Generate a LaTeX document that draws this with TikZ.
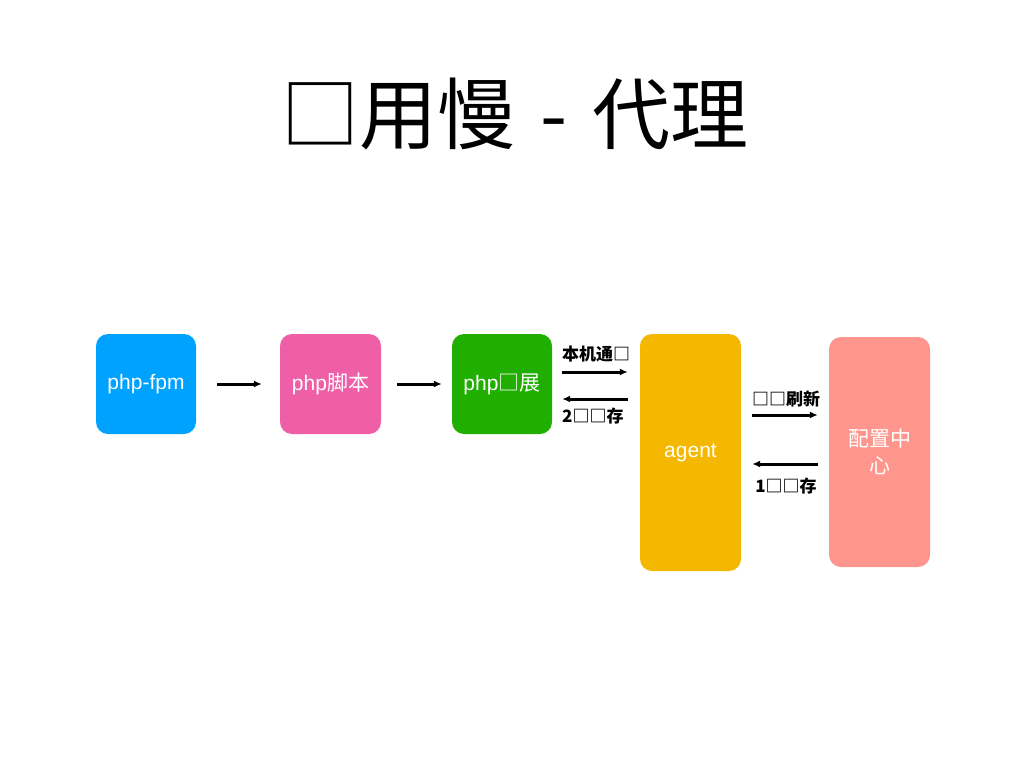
\documentclass[tikz,border=0pt]{standalone}
\usepackage{fontspec}
\setmainfont{Liberation Sans}
\newfontfamily\cjk{Noto Sans CJK SC}
\usetikzlibrary{arrows.meta}
\definecolor{cblue}{RGB}{0,162,255}
\definecolor{cpink}{RGB}{238,95,168}
\definecolor{cgreen}{RGB}{32,174,0}
\definecolor{corange}{RGB}{245,184,0}
\definecolor{csalmon}{RGB}{255,150,142}
\begin{document}
\begin{tikzpicture}[x=1pt,y=-1pt,
  box/.style={rectangle,rounded corners=12pt,draw=none,text=white,
    font=\fontsize{21}{27}\selectfont,inner sep=0pt,align=center},
  arr/.style={-{Latex[length=8pt,width=7pt]},line width=3pt},
  lbl/.style={font=\cjk\bfseries\fontsize{17}{19}\selectfont,inner sep=0pt}]
\path[use as bounding box,fill=white] (0,0) rectangle (1024,768);
\node[inner sep=0pt,font=\cjk\fontsize{78}{82}\selectfont] (title) at (515,114)
  {□用慢\hspace{0.32em}-\hspace{0.32em}代理};
\node[box,fill=cblue,minimum width=100pt,minimum height=100pt] (fpm) at (146,384) {php-fpm};
\node[box,fill=cpink,minimum width=101pt,minimum height=100pt] (script) at (330.5,384) {php{\cjk 脚本}};
\node[box,fill=cgreen,minimum width=100pt,minimum height=100pt] (ext) at (502,384) {php{\cjk □展}};
\node[box,fill=corange,minimum width=101pt,minimum height=237pt] (agent) at (690.5,452.5) {agent};
\node[box,fill=csalmon,minimum width=101pt,minimum height=230pt] (conf) at (879.5,452) {\cjk 配置中\\\cjk 心};
\coordinate (ya) at (0,372);
\coordinate (yb) at (0,399);
\coordinate (yc) at (0,415);
\coordinate (yd) at (0,464);
\draw[arr,shorten <=21pt,shorten >=18pt] (fpm.east) -- (script.west);
\draw[arr,shorten <=16pt,shorten >=10pt] (script.east) -- (ext.west);
\draw[arr,shorten <=10pt,shorten >=12pt] (ext.east |- ya) -- (agent.west |- ya);
\draw[arr,shorten <=12pt,shorten >=10pt] (agent.west |- yb) -- (ext.east |- yb);
\draw[arr,shorten <=11pt,shorten >=11pt] (agent.east |- yc) -- (conf.west |- yc);
\draw[arr,shorten <=11pt,shorten >=11pt] (conf.west |- yd) -- (agent.east |- yd);
\node[lbl] (l1) at (596,354) {本机通□};
\node[lbl,anchor=west] (l2) at (562,416) {2□□存};
\node[lbl] (l3) at (786,399) {□□刷新};
\node[lbl] (l4) at (786,486) {1□□存};
\end{tikzpicture}
\end{document}
